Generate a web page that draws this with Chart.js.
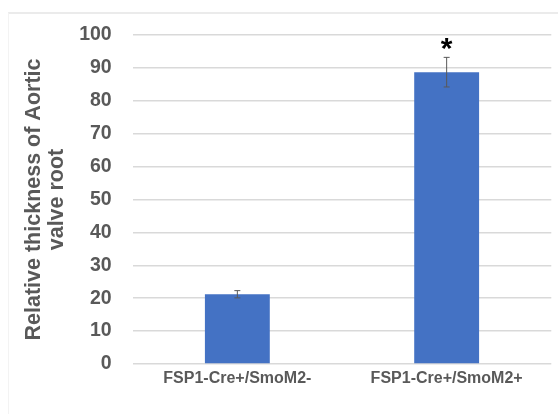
<!DOCTYPE html>
<html>
<head>
<meta charset="utf-8">
<script src="https://cdn.jsdelivr.net/npm/chart.js@4/dist/chart.umd.min.js"></script>
<style>
  html, body { margin: 0; padding: 0; background: #ffffff; }
  #frame { position: absolute; left: 8px; top: 12px; width: 550px; height: 402px;
           border-top: 2px solid #ebebeb; border-left: 1px solid #f3f3f3; }
  #c { position: absolute; left: 0; top: 0; }
</style>
</head>
<body>
<div id="frame"></div>
<canvas id="c" width="558" height="414"></canvas>
<script>
const categories = ['FSP1-Cre+/SmoM2-', 'FSP1-Cre+/SmoM2+'];
const values = [21.2, 88.7];
const errors = [1.1, 4.5];
const significance = ['', '*'];
const yTicks = [0, 10, 20, 30, 40, 50, 60, 70, 80, 90, 100];
const yTitle = ['Relative thickness of Aortic', 'valve root'];

const FONT = "'Liberation Sans', Arial, sans-serif";
const GRAY = '#595959';

const errorBarPlugin = {
  id: 'errorBars',
  afterDatasetsDraw(chart) {
    const ctx = chart.ctx;
    const meta = chart.getDatasetMeta(0);
    const y = chart.scales.y;
    ctx.save();
    meta.data.forEach((bar, i) => {
      const x = bar.x;
      const hi = y.getPixelForValue(values[i] + errors[i]);
      const lo = y.getPixelForValue(values[i] - errors[i]);
      ctx.strokeStyle = GRAY;
      ctx.lineWidth = 1;
      ctx.beginPath();
      ctx.moveTo(x, hi); ctx.lineTo(x, lo);
      ctx.moveTo(x - 3, hi); ctx.lineTo(x + 3, hi);
      ctx.moveTo(x - 3, lo); ctx.lineTo(x + 3, lo);
      ctx.stroke();
      if (significance[i]) {
        ctx.fillStyle = '#000000';
        ctx.font = 'bold 30px ' + FONT;
        ctx.textAlign = 'center';
        ctx.textBaseline = 'middle';
        ctx.fillText(significance[i], x, hi - 8);
      }
    });
    ctx.restore();
  }
};

new Chart(document.getElementById('c'), {
  type: 'bar',
  data: {
    labels: categories,
    datasets: [{
      data: values,
      backgroundColor: '#4472C4',
      borderWidth: 0,
      categoryPercentage: 1,
      barPercentage: 0.31
    }]
  },
  options: {
    responsive: false,
    animation: false,
    layout: { padding: { top: 35, right: 6.7, bottom: 0, left: 0 } },
    plugins: { legend: { display: false }, tooltip: { enabled: false } },
    scales: {
      x: {
        grid: { display: false, drawTicks: false },
        border: { display: false },
        ticks: { color: GRAY, padding: 5, font: { family: FONT, size: 16, weight: 'bold' } },
        afterFit(s) { s.height = 50; }
      },
      y: {
        min: 0, max: 100,
        afterBuildTicks(s) { s.ticks = yTicks.map(v => ({ value: v })); },
        grid: { color: '#d9d9d9', lineWidth: 1.5, drawTicks: false },
        border: { display: false },
        ticks: { color: GRAY, padding: 21, font: { family: FONT, size: 19.5, weight: 'bold' } },
        title: {
          display: true,
          text: yTitle,
          color: GRAY,
          padding: { top: 23, bottom: 0 },
          font: { family: FONT, size: 21.5, weight: 'bold', lineHeight: 1.07 }
        },
        afterFit(s) { s.width = 132.7; }
      }
    }
  },
  plugins: [errorBarPlugin]
});
</script>
</body>
</html>
